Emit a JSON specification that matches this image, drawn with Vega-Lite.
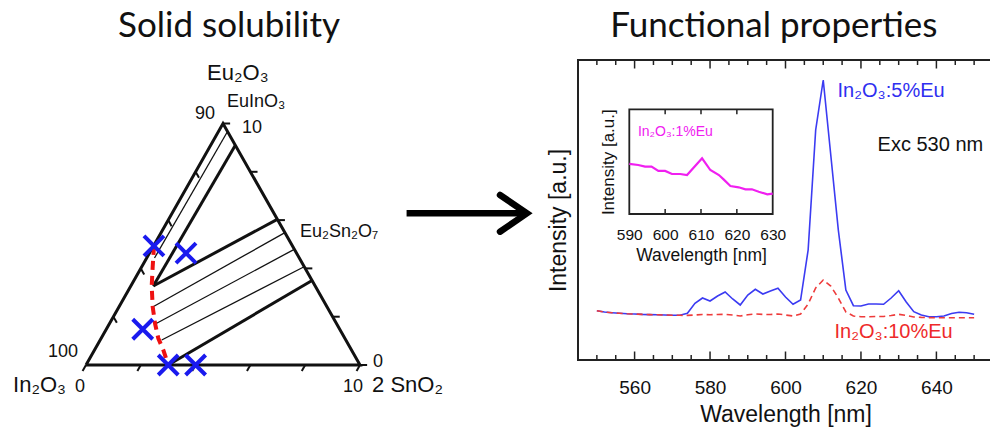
{
  "$schema": "https://vega.github.io/schema/vega-lite/v6.json",
  "width": 990,
  "height": 430,
  "autosize": "none",
  "padding": 0,
  "background": "white",
  "config": {"view": {"stroke": null}, "axis": {"grid": false}, "text": {"font": "Liberation Sans"}},
  "datasets": {
    "triangle": [{"o": 0, "x": 0, "y": 0}, {"o": 1, "x": 10, "y": 0}, {"o": 2, "x": 5, "y": 10}, {"o": 3, "x": 0, "y": 0}],
    "tern_ticks": [
      {"x": 1, "y": 2, "x2": 1.125, "y2": 1.75}, {"x": 2, "y": 4, "x2": 2.125, "y2": 3.75}, {"x": 3, "y": 6, "x2": 3.125, "y2": 5.75}, {"x": 4, "y": 8, "x2": 4.125, "y2": 7.75},
      {"x": 0, "y": 0, "x2": -0.125, "y2": -0.25}, {"x": 2, "y": 0, "x2": 1.875, "y2": -0.25}, {"x": 4, "y": 0, "x2": 3.875, "y2": -0.25}, {"x": 6, "y": 0, "x2": 5.875, "y2": -0.25}, {"x": 8, "y": 0, "x2": 7.875, "y2": -0.25}, {"x": 10, "y": 0, "x2": 9.875, "y2": -0.25},
      {"x": 10, "y": 0, "x2": 10.26, "y2": 0}, {"x": 9, "y": 2, "x2": 9.26, "y2": 2}, {"x": 8, "y": 4, "x2": 8.26, "y2": 4}, {"x": 7, "y": 6, "x2": 7.26, "y2": 6}, {"x": 6, "y": 8, "x2": 6.26, "y2": 8}, {"x": 5, "y": 10, "x2": 5.26, "y2": 10}
    ],
    "boundaries": [
      {"x": 5.45, "y": 9.1, "x2": 2.456, "y2": 3.271},
      {"x": 2.456, "y": 3.271, "x2": 6.98, "y2": 6.03},
      {"x": 3.0, "y": 0, "x2": 8.25, "y2": 3.5}
    ],
    "tielines": [
      {"x": 5.165, "y": 9.67, "x2": 2.5, "y2": 4.43},
      {"x": 2.45, "y": 2.414, "x2": 7.26, "y2": 5.48},
      {"x": 2.58, "y": 1.727, "x2": 7.6, "y2": 4.79},
      {"x": 2.763, "y": 1.035, "x2": 7.96, "y2": 4.07}
    ],
    "solvus": [
      {"o": 0, "x": 2.482, "y": 4.928}, {"o": 1, "x": 2.434, "y": 4.07}, {"o": 2, "x": 2.398, "y": 3.271}, {"o": 3, "x": 2.434, "y": 2.414},
      {"o": 4, "x": 2.518, "y": 1.727}, {"o": 5, "x": 2.639, "y": 1.106}, {"o": 6, "x": 2.821, "y": 0.621}, {"o": 7, "x": 3.0, "y": 0.0}
    ],
    "samples": [{"x": 2.48, "y": 4.93}, {"x": 3.65, "y": 4.63}, {"x": 2.07, "y": 1.48}, {"x": 3.0, "y": 0}, {"x": 4.0, "y": 0}],
    "arrow_shaft": [{"x": 11.7, "y": 6.28, "x2": 15.9, "y2": 6.28}],
    "arrow_head": [{"o": 0, "x": 15.11, "y": 7.04}, {"o": 1, "x": 16.09, "y": 6.28}, {"o": 2, "x": 15.11, "y": 5.52}],
    "tern_big": [{"x": 4.42, "y": 11.8, "t": "Eu₂O₃"}, {"x": -2.66, "y": -1.12, "t": "In₂O₃"}, {"x": 10.44, "y": -1.12, "t": "2 SnO₂"}],
    "tern_small": [
      {"x": 5.146, "y": 10.68, "t": "EuInO₃"}, {"x": 7.81, "y": 5.3, "t": "Eu₂Sn₂O₇"},
      {"x": 3.98, "y": 10.19, "t": "90"}, {"x": 5.69, "y": 9.61, "t": "10"},
      {"x": -1.39, "y": 0.33, "t": "100"}, {"x": -0.4, "y": -1.12, "t": "0"},
      {"x": 9.38, "y": -1.12, "t": "10"}, {"x": 10.47, "y": -0.08, "t": "0"}
    ],
    "tern_title": [{"x": 5.22, "y": 13.58, "t": "Solid solubility"}],
    "eu5": [
      {"wl": 550, "I": 49.3}, {"wl": 552, "I": 48}, {"wl": 554, "I": 47.3}, {"wl": 556, "I": 46.7}, {"wl": 558, "I": 46.2}, {"wl": 560, "I": 46},
      {"wl": 562, "I": 45.6}, {"wl": 564, "I": 45.4}, {"wl": 566, "I": 45.2}, {"wl": 568, "I": 45}, {"wl": 570, "I": 44.8}, {"wl": 572, "I": 44.7},
      {"wl": 574, "I": 46.7}, {"wl": 576, "I": 56.7}, {"wl": 578, "I": 62}, {"wl": 580, "I": 59}, {"wl": 582, "I": 64}, {"wl": 584, "I": 68},
      {"wl": 586, "I": 61}, {"wl": 588, "I": 55}, {"wl": 590, "I": 65}, {"wl": 592, "I": 70.7}, {"wl": 594, "I": 66}, {"wl": 596, "I": 69},
      {"wl": 598, "I": 71.7}, {"wl": 600, "I": 63}, {"wl": 602, "I": 55.7}, {"wl": 604, "I": 60}, {"wl": 606, "I": 110}, {"wl": 608, "I": 230},
      {"wl": 610, "I": 280}, {"wl": 612, "I": 205}, {"wl": 614, "I": 130}, {"wl": 616, "I": 70}, {"wl": 618, "I": 54.3}, {"wl": 620, "I": 54},
      {"wl": 622, "I": 56}, {"wl": 624, "I": 56}, {"wl": 626, "I": 55.7}, {"wl": 628, "I": 62}, {"wl": 630, "I": 69.3}, {"wl": 632, "I": 58},
      {"wl": 634, "I": 48.3}, {"wl": 636, "I": 45}, {"wl": 638, "I": 43.3}, {"wl": 640, "I": 43.3}, {"wl": 642, "I": 44}, {"wl": 644, "I": 46.5},
      {"wl": 646, "I": 47.7}, {"wl": 648, "I": 47.3}, {"wl": 650, "I": 45.7}
    ],
    "eu10": [
      {"wl": 550, "I": 49.3}, {"wl": 552, "I": 48}, {"wl": 554, "I": 47.3}, {"wl": 556, "I": 46.7}, {"wl": 558, "I": 46.2}, {"wl": 560, "I": 46},
      {"wl": 562, "I": 45.6}, {"wl": 564, "I": 45.4}, {"wl": 566, "I": 45.2}, {"wl": 568, "I": 45}, {"wl": 570, "I": 44.8}, {"wl": 572, "I": 44.7},
      {"wl": 574, "I": 44.6}, {"wl": 576, "I": 45}, {"wl": 578, "I": 45.5}, {"wl": 580, "I": 45.3}, {"wl": 582, "I": 45.5}, {"wl": 584, "I": 45.7},
      {"wl": 586, "I": 45}, {"wl": 588, "I": 44}, {"wl": 590, "I": 45.3}, {"wl": 592, "I": 46}, {"wl": 594, "I": 45.6}, {"wl": 596, "I": 45.5},
      {"wl": 598, "I": 46}, {"wl": 600, "I": 45}, {"wl": 602, "I": 44}, {"wl": 604, "I": 46}, {"wl": 606, "I": 56}, {"wl": 608, "I": 72},
      {"wl": 610, "I": 80}, {"wl": 612, "I": 74}, {"wl": 614, "I": 62}, {"wl": 616, "I": 48}, {"wl": 618, "I": 44}, {"wl": 620, "I": 43.3},
      {"wl": 622, "I": 43.3}, {"wl": 624, "I": 43.5}, {"wl": 626, "I": 43.5}, {"wl": 628, "I": 44.5}, {"wl": 630, "I": 45.7}, {"wl": 632, "I": 44.5},
      {"wl": 634, "I": 43}, {"wl": 636, "I": 42.6}, {"wl": 638, "I": 42.4}, {"wl": 640, "I": 42.3}, {"wl": 642, "I": 42.3}, {"wl": 644, "I": 42.3},
      {"wl": 646, "I": 42.3}, {"wl": 648, "I": 42.3}, {"wl": 650, "I": 42.3}
    ],
    "spec_labels": [
      {"wl": 613.8, "I": 263.3, "t": "In₂O₃:5%Eu", "s": "5% Eu"},
      {"wl": 624.4, "I": 209.3, "t": "Exc 530 nm", "s": "excitation"},
      {"wl": 613.0, "I": 21.7, "t": "In₂O₃:10%Eu", "s": "10% Eu"}
    ],
    "spec_title": [{"wl": 596.9, "I": 323, "t": "Functional properties"}],
    "spec_frame": [{"wl": 545, "wl2": 655, "I": 0, "I2": 300}],
    "major_bottom": [{"wl": 560, "I": 0}, {"wl": 580, "I": 0}, {"wl": 600, "I": 0}, {"wl": 620, "I": 0}, {"wl": 640, "I": 0}],
    "major_top": [{"wl": 560, "I": 300}, {"wl": 580, "I": 300}, {"wl": 600, "I": 300}, {"wl": 620, "I": 300}, {"wl": 640, "I": 300}],
    "minor_bottom": [
      {"wl": 550, "I": 0}, {"wl": 555, "I": 0}, {"wl": 565, "I": 0}, {"wl": 570, "I": 0}, {"wl": 575, "I": 0}, {"wl": 585, "I": 0}, {"wl": 590, "I": 0}, {"wl": 595, "I": 0},
      {"wl": 605, "I": 0}, {"wl": 610, "I": 0}, {"wl": 615, "I": 0}, {"wl": 625, "I": 0}, {"wl": 630, "I": 0}, {"wl": 635, "I": 0}, {"wl": 645, "I": 0}, {"wl": 650, "I": 0}
    ],
    "minor_top": [
      {"wl": 550, "I": 300}, {"wl": 555, "I": 300}, {"wl": 565, "I": 300}, {"wl": 570, "I": 300}, {"wl": 575, "I": 300}, {"wl": 585, "I": 300}, {"wl": 590, "I": 300}, {"wl": 595, "I": 300},
      {"wl": 605, "I": 300}, {"wl": 610, "I": 300}, {"wl": 615, "I": 300}, {"wl": 625, "I": 300}, {"wl": 630, "I": 300}, {"wl": 635, "I": 300}, {"wl": 645, "I": 300}, {"wl": 650, "I": 300}
    ],
    "eu1": [
      {"wl": 590, "I": 47.8}, {"wl": 592.5, "I": 46.8}, {"wl": 594.4, "I": 45.2}, {"wl": 596.2, "I": 45.2}, {"wl": 598.1, "I": 41.1},
      {"wl": 600, "I": 41.1}, {"wl": 601.9, "I": 38.2}, {"wl": 604.2, "I": 38.2}, {"wl": 606.1, "I": 37.2}, {"wl": 610.3, "I": 53.2},
      {"wl": 612.6, "I": 42.0}, {"wl": 615, "I": 37.2}, {"wl": 616.3, "I": 33.1}, {"wl": 618.2, "I": 26.7}, {"wl": 620.5, "I": 25.5},
      {"wl": 622.4, "I": 23.6}, {"wl": 624.2, "I": 23.6}, {"wl": 626.1, "I": 21.3}, {"wl": 628.5, "I": 18.8}, {"wl": 630, "I": 19.4}
    ],
    "inset_label": [{"wl": 592.4, "I": 74.5, "t": "In₂O₃:1%Eu"}],
    "inset_frame": [{"wl": 590, "wl2": 630, "I": 0, "I2": 100}],
    "inset_ticks_bottom": [{"wl": 600, "I": 0}, {"wl": 610, "I": 0}, {"wl": 620, "I": 0}],
    "inset_ticks_top": [{"wl": 600, "I": 100}, {"wl": 610, "I": 100}, {"wl": 620, "I": 100}]
  },
  "layer": [
    {
      "encoding": {
        "x": {"field": "x", "type": "quantitative", "scale": {"domain": [0, 10], "range": [86, 360], "nice": false, "zero": false}, "axis": null},
        "y": {"field": "y", "type": "quantitative", "scale": {"domain": [0, 10], "range": [365, 123.5], "nice": false, "zero": false}, "axis": null}
      },
      "layer": [
        {"data": {"name": "tielines"}, "mark": {"type": "rule", "color": "#111", "strokeWidth": 1.3}, "encoding": {"x2": {"field": "x2"}, "y2": {"field": "y2"}}},
        {"data": {"name": "boundaries"}, "mark": {"type": "rule", "color": "#111", "strokeWidth": 3}, "encoding": {"x2": {"field": "x2"}, "y2": {"field": "y2"}}},
        {"data": {"name": "tern_ticks"}, "mark": {"type": "rule", "color": "#111", "strokeWidth": 2}, "encoding": {"x2": {"field": "x2"}, "y2": {"field": "y2"}}},
        {"data": {"name": "triangle"}, "mark": {"type": "line", "color": "#111", "strokeWidth": 3, "strokeJoin": "miter"}, "encoding": {"order": {"field": "o"}}},
        {"data": {"name": "solvus"}, "mark": {"type": "line", "color": "#ee1111", "strokeWidth": 4, "strokeDash": [9, 6]}, "encoding": {"order": {"field": "o"}}},
        {"data": {"name": "samples"}, "mark": {"type": "point", "shape": "M-1,-1L1,1M-1,1L1,-1", "filled": false, "size": 400, "stroke": "#1a1aee", "strokeWidth": 4, "opacity": 1}},
        {"data": {"name": "arrow_shaft"}, "mark": {"type": "rule", "color": "#000", "strokeWidth": 6.5}, "encoding": {"x2": {"field": "x2"}, "y2": {"field": "y2"}}},
        {"data": {"name": "arrow_head"}, "mark": {"type": "line", "color": "#000", "strokeWidth": 6.5, "strokeCap": "round", "strokeJoin": "miter"}, "encoding": {"order": {"field": "o"}}},
        {"data": {"name": "tern_big"}, "mark": {"type": "text", "align": "left", "baseline": "alphabetic", "fontSize": 22, "font": "Liberation Sans", "color": "#111"}, "encoding": {"text": {"field": "t"}}},
        {"data": {"name": "tern_small"}, "mark": {"type": "text", "align": "left", "baseline": "alphabetic", "fontSize": 18, "font": "Liberation Sans", "color": "#111"}, "encoding": {"text": {"field": "t"}}},
        {"data": {"name": "tern_title"}, "mark": {"type": "text", "align": "center", "baseline": "alphabetic", "fontSize": 35, "font": "Lato", "color": "#111"}, "encoding": {"text": {"field": "t"}}}
      ]
    },
    {
      "encoding": {
        "x": {"field": "wl", "type": "quantitative",
          "scale": {"domain": [545, 655], "range": [578, 993], "nice": false, "zero": false},
          "axis": {"orient": "bottom", "offset": -70, "values": [560, 580, 600, 620, 640],
            "domain": false, "grid": false, "ticks": false,
            "labelFont": "Liberation Sans", "labelFontSize": 19, "labelColor": "#111", "labelPadding": 18, "labelOverlap": false, "labelFlush": false,
            "title": "Wavelength [nm]", "titleFont": "Liberation Sans", "titleFontSize": 23, "titleFontWeight": "normal", "titleColor": "#111", "titleY": 61, "titleBaseline": "alphabetic"}},
        "y": {"field": "I", "type": "quantitative",
          "scale": {"domain": [0, 300], "range": [360, 60], "nice": false, "zero": false},
          "axis": {"orient": "left", "offset": -578, "domain": false, "ticks": false, "labels": false, "grid": false,
            "title": "Intensity [a.u.]", "titleFont": "Liberation Sans", "titleFontSize": 23, "titleFontWeight": "normal", "titleColor": "#111",
            "titleX": -20, "titleY": 220, "titleAngle": 270, "titleBaseline": "middle", "titleAlign": "center"}}
      },
      "layer": [
        {"data": {"name": "minor_bottom"}, "mark": {"type": "tick", "orient": "vertical", "size": 5, "thickness": 1.5, "color": "#222", "opacity": 1, "yOffset": -2.5}},
        {"data": {"name": "minor_top"}, "mark": {"type": "tick", "orient": "vertical", "size": 5, "thickness": 1.5, "color": "#222", "opacity": 1, "yOffset": 2.5}},
        {"data": {"name": "major_bottom"}, "mark": {"type": "tick", "orient": "vertical", "size": 8.5, "thickness": 1.5, "color": "#222", "opacity": 1, "yOffset": -4.25}},
        {"data": {"name": "major_top"}, "mark": {"type": "tick", "orient": "vertical", "size": 8.5, "thickness": 1.5, "color": "#222", "opacity": 1, "yOffset": 4.25}},
        {"data": {"name": "spec_frame"}, "mark": {"type": "rect", "filled": false, "stroke": "#222", "strokeWidth": 2}, "encoding": {"x2": {"field": "wl2"}, "y2": {"field": "I2"}}},
        {"data": {"name": "eu5"}, "mark": {"type": "line", "color": "#3b3bf2", "strokeWidth": 1.6}},
        {"data": {"name": "eu10"}, "mark": {"type": "line", "color": "#ee3b3b", "strokeWidth": 1.6, "strokeDash": [6, 4]}},
        {"data": {"name": "spec_labels"}, "mark": {"type": "text", "align": "left", "baseline": "alphabetic", "fontSize": 20, "font": "Liberation Sans"},
          "encoding": {"text": {"field": "t"}, "color": {"field": "s", "type": "nominal", "scale": {"domain": ["5% Eu", "10% Eu", "excitation"], "range": ["#2f2ff0", "#ee2a2a", "#111111"]}, "legend": null}}},
        {"data": {"name": "spec_title"}, "mark": {"type": "text", "align": "center", "baseline": "alphabetic", "fontSize": 35, "font": "Lato", "color": "#111"}, "encoding": {"text": {"field": "t"}}}
      ]
    },
    {
      "encoding": {
        "x": {"field": "wl", "type": "quantitative",
          "scale": {"domain": [590, 630], "range": [629.3, 772.7], "nice": false, "zero": false},
          "axis": {"orient": "bottom", "offset": -216, "values": [590, 600, 610, 620, 630], "domain": false, "grid": false, "ticks": false,
            "labelFont": "Liberation Sans", "labelFontSize": 15.5, "labelColor": "#111", "labelPadding": 13, "labelOverlap": false, "labelFlush": false,
            "title": "Wavelength [nm]", "titleFont": "Liberation Sans", "titleFontSize": 17.5, "titleFontWeight": "normal", "titleColor": "#111", "titleY": 46.5, "titleBaseline": "alphabetic"}},
        "y": {"field": "I", "type": "quantitative",
          "scale": {"domain": [0, 100], "range": [214, 109.3], "nice": false, "zero": false},
          "axis": {"orient": "left", "offset": -629.3, "domain": false, "ticks": false, "labels": false, "grid": false,
            "title": "Intensity [a.u.]", "titleFont": "Liberation Sans", "titleFontSize": 17, "titleFontWeight": "normal", "titleColor": "#111",
            "titleX": -21, "titleY": 161.7, "titleAngle": 270, "titleBaseline": "middle", "titleAlign": "center"}}
      },
      "layer": [
        {"data": {"name": "inset_ticks_bottom"}, "mark": {"type": "tick", "orient": "vertical", "size": 5, "thickness": 1.5, "color": "#222", "opacity": 1, "yOffset": -2.5}},
        {"data": {"name": "inset_ticks_top"}, "mark": {"type": "tick", "orient": "vertical", "size": 5, "thickness": 1.5, "color": "#222", "opacity": 1, "yOffset": 2.5}},
        {"data": {"name": "inset_frame"}, "mark": {"type": "rect", "filled": false, "stroke": "#222", "strokeWidth": 1.8}, "encoding": {"x2": {"field": "wl2"}, "y2": {"field": "I2"}}},
        {"data": {"name": "eu1"}, "mark": {"type": "line", "color": "#f020f0", "strokeWidth": 2.2}},
        {"data": {"name": "inset_label"}, "mark": {"type": "text", "align": "left", "baseline": "alphabetic", "fontSize": 14, "font": "Liberation Sans", "color": "#f020f0"}, "encoding": {"text": {"field": "t"}}}
      ]
    }
  ],
  "resolve": {"scale": {"x": "independent", "y": "independent"}, "axis": {"x": "independent", "y": "independent"}}
}
